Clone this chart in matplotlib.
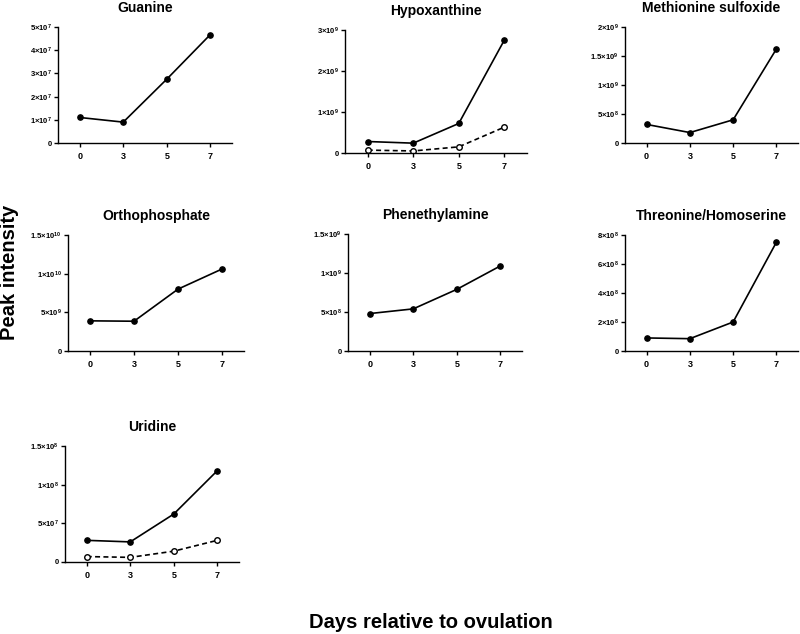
#!/usr/bin/env python3
# Peak intensity of selected metabolites vs days relative to ovulation
import numpy as np
from matplotlib import pyplot as plt
from matplotlib import ticker as tkr

plt.rcParams['font.family'] = ['Liberation Sans', 'DejaVu Sans']
plt.rcParams['font.weight'] = 'bold'
plt.rcParams['mathtext.fontset'] = 'custom'
plt.rcParams['mathtext.rm'] = 'Liberation Sans:bold'
plt.rcParams['mathtext.bf'] = 'Liberation Sans:bold'
plt.rcParams['mathtext.default'] = 'bf'

days = ['0', '3', '5', '7']

guanine = [1.10e7, 0.90e7, 2.75e7, 4.67e7]
hypoxanthine = [0.28e9, 0.24e9, 0.72e9, 2.75e9]
hypoxanthine_2 = [0.07e9, 0.05e9, 0.15e9, 0.63e9]
methionine_sulfoxide = [0.32e9, 0.18e9, 0.40e9, 1.62e9]
orthophosphate = [3.90e9, 3.85e9, 8.00e9, 1.06e10]
phenethylamine = [0.48e9, 0.54e9, 0.79e9, 1.09e9]
threonine = [0.90e8, 0.85e8, 2.00e8, 7.50e8]
uridine = [2.80e7, 2.60e7, 6.20e7, 1.18e8]
uridine_2 = [0.70e7, 0.60e7, 1.40e7, 2.80e7]

# name, solid series, dashed series, y max, y step
panels = [
    ('Guanine', guanine, None, 5e7, 1e7),
    ('Hypoxanthine', hypoxanthine, hypoxanthine_2, 3e9, 1e9),
    ('Methionine sulfoxide', methionine_sulfoxide, None, 2e9, 5e8),
    ('Orthophosphate', orthophosphate, None, 1.5e10, 5e9),
    ('Phenethylamine', phenethylamine, None, 1.5e9, 5e8),
    ('Threonine/Homoserine', threonine, None, 8e8, 2e8),
    ('Uridine', uridine, uridine_2, 1.5e8, 5e7),
]

# axes boxes in pixels: left, right, top, bottom
boxes = [
    (58, 232, 27, 143),
    (345, 527, 30, 153),
    (625, 798, 27, 143),
    (68, 244, 235, 351),
    (348, 522, 234, 351),
    (625, 798, 235, 351),
    (65, 239, 446, 562),
]

W, H = 800, 634


def sci_label(v, pos):
    """Format tick value as m x 10^e"""
    if v == 0:
        return '0'
    e = int(np.floor(np.log10(v) + 1e-9))
    m = v / 10**e
    return '%g×10$^{%d}$' % (round(m, 2), e)


fig = plt.figure(figsize=(W/100, H/100), dpi=100)

for (name, solid, dashed, ymax, ystep), (l, r, t, b) in zip(panels, boxes):
    ax = fig.add_axes([l/W, 1 - b/H, (r - l)/W, (b - t)/H])
    x = np.arange(len(days))
    ax.plot(x, solid, color='black', linewidth=1.2,
            marker='o', markersize=3.8)
    if dashed is not None:
        ax.plot(x, dashed, color='black', linewidth=1.2, linestyle=(0, (3, 2)),
                marker='o', markersize=4, markerfacecolor='white',
                markeredgewidth=1.0)
    ax.set_xlim(-0.5, len(days) - 0.5)
    ax.set_ylim(0, ymax)
    ax.set_xticks(x)
    ax.set_xticklabels(days)
    ax.set_yticks(np.arange(0, ymax + ystep/2, ystep))
    ax.yaxis.set_major_formatter(tkr.FuncFormatter(sci_label))
    for side in ['top', 'right']:
        ax.spines[side].set_visible(False)
    for side in ['left', 'bottom']:
        ax.spines[side].set_linewidth(1.0)
    ax.tick_params(axis='x', labelsize=6.5, length=3, width=1.0, pad=3.5)
    ax.tick_params(axis='y', labelsize=5.5, length=3, width=1.0, pad=1.5)
    ax.set_title(name, fontsize=10, fontweight='bold', pad=11)

fig.text(431/W, 1 - 622/H, 'Days relative to ovulation',
         ha='center', va='center', fontsize=14.5, fontweight='bold')
fig.text(10/W, 1 - 272/H, 'Peak intensity', rotation=90,
         ha='center', va='center', fontsize=14.5, fontweight='bold')

fig.savefig('out.png', dpi=100)
